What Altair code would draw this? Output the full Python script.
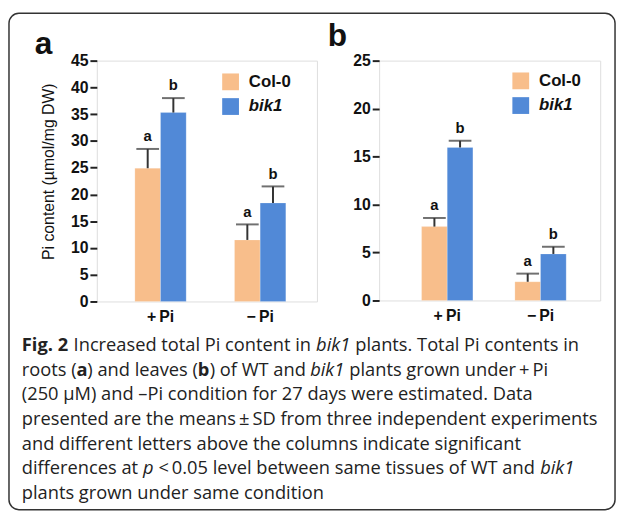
import altair as alt
import pandas as pd

# ---------------- data ----------------
conditions = ["+\u2009Pi", "\u2212\u2009Pi"]
genotypes = ["Col-0", "bik1"]
colors = ["#F8BE8B", "#5189D7"]

# panel a: roots
roots_col0 = [24.9, 11.5]
roots_col0_sd = [3.6, 2.9]
roots_bik1 = [35.3, 18.4]
roots_bik1_sd = [2.7, 3.1]
roots_letters_col0 = ["a", "a"]
roots_letters_bik1 = ["b", "b"]
roots_ticks = [0, 5, 10, 15, 20, 25, 30, 35, 40, 45]

# panel b: leaves
leaves_col0 = [7.7, 1.95]
leaves_col0_sd = [0.9, 0.85]
leaves_bik1 = [15.95, 4.85]
leaves_bik1_sd = [0.7, 0.75]
leaves_letters_col0 = ["a", "a"]
leaves_letters_bik1 = ["b", "b"]
leaves_ticks = [0, 5, 10, 15, 20, 25]

y_title = "Pi content (\u00b5mol/mg DW)"

# caption: list of lines; each segment = (text, style, space_before)
caption_lines = [
    [("Fig. 2", "bold", False), ("Increased total Pi content in", "normal", True),
     ("bik1", "italic", True), ("plants. Total Pi contents in", "normal", True)],
    [("roots (", "normal", False), ("a", "bold", False), (") and leaves (", "normal", False),
     ("b", "bold", False), (") of WT and", "normal", False), ("bik1", "italic", True),
     ("plants grown under\u2009+\u2009Pi", "normal", True)],
    [("(250 \u00b5M) and \u2013Pi condition for 27 days were estimated. Data", "normal", False)],
    [("presented are the means\u2009\u00b1\u2009SD from three independent experiments", "normal", False)],
    [("and different letters above the columns indicate significant", "normal", False)],
    [("differences at", "normal", False), ("p", "italic", True),
     ("<\u20090.05 level between same tissues of WT and", "normal", True), ("bik1", "italic", True)],
    [("plants grown under same condition", "normal", False)],
]
caption_baselines = [353, 378, 403, 428, 453, 478, 503]
CAPTION_X = 22
CAPTION_SIZE = 18.5

AX_FONT = "Liberation Sans"
CAP_FONT = "Open Sans"
A_ORIGIN = (98, 59)

# approximate Open Sans advance widths (units per em = 2048), for laying out caption runs
_ADV = {" ": 532, "(": 596, ")": 596, "+": 1171, ".": 545, "/": 752, "<": 1171,
        "\u2009": 410, "\u00b1": 1171, "\u2013": 1024, "\u00b5": 1266,
        "A": 1300, "D": 1466, "F": 1088, "I": 604, "M": 1796, "P": 1245, "S": 1063,
        "T": 1087, "W": 1874,
        "a": 1139, "b": 1255, "c": 975, "d": 1255, "e": 1149, "f": 694, "g": 1122,
        "h": 1257, "i": 518, "j": 518, "k": 1075, "l": 518, "m": 1905, "n": 1257,
        "o": 1237, "p": 1255, "q": 1255, "r": 836, "s": 977, "t": 723, "u": 1257,
        "v": 1026, "w": 1593, "x": 1073, "y": 1028, "z": 977}
_STYLE_FACTOR = {"normal": 1.0, "bold": 1.06, "italic": 0.96}


def run_width(text, style, size):
    units = sum(_ADV.get(ch, 1171) for ch in text)
    return units / 2048.0 * size * _STYLE_FACTOR[style]


def make_df(col0, col0_sd, bik1, bik1_sd, l_col0, l_bik1):
    rows = []
    for i, c in enumerate(conditions):
        rows.append({"condition": c, "genotype": "Col-0", "mean": col0[i],
                     "upper": col0[i] + col0_sd[i], "letter": l_col0[i]})
        rows.append({"condition": c, "genotype": "bik1", "mean": bik1[i],
                     "upper": bik1[i] + bik1_sd[i], "letter": l_bik1[i]})
    return pd.DataFrame(rows)


def panel(df, ymax, ticks, p_in, p_out, align, leg_x, leg_y,
          title, title_y, letter, lx, ly):
    base = alt.Chart(df)
    x = alt.X("condition:N", sort=conditions,
              scale=alt.Scale(paddingInner=p_in, paddingOuter=p_out, align=align),
              axis=alt.Axis(title=None, labelAngle=0, ticks=False, domain=False,
                            labelFont=AX_FONT, labelFontWeight="bold", labelFontSize=16,
                            labelColor="#111", labelPadding=7))
    xo = alt.XOffset("genotype:N", sort=genotypes,
                     scale=alt.Scale(paddingInner=0, paddingOuter=0))
    y_axis = alt.Axis(values=ticks, grid=False, domain=False, tickSize=7,
                      tickWidth=2, tickColor="#222", labelFont=AX_FONT,
                      labelFontWeight="bold", labelFontSize=16, labelColor="#111",
                      labelPadding=2, labelOverlap=False, titleFont=AX_FONT,
                      titleFontWeight="normal", titleFontSize=16, titleColor="#111",
                      titlePadding=14, titleY=title_y)
    y_scale = alt.Scale(domain=[0, ymax], nice=False, zero=True)

    def Y(field):
        return alt.Y(field, title=title, scale=y_scale, axis=y_axis)

    bars = base.mark_bar(stroke="white", strokeWidth=0.5, strokeOpacity=0.4).encode(
        x=x, xOffset=xo, y=Y("mean:Q"),
        color=alt.Color("genotype:N", sort=genotypes,
                        scale=alt.Scale(domain=genotypes, range=colors),
                        legend=alt.Legend(title=None, orient="none", legendX=leg_x,
                                          legendY=leg_y, symbolType="square",
                                          symbolSize=289, symbolStrokeWidth=0,
                                          symbolOpacity=1,
                                          labelFont=AX_FONT, labelFontWeight="bold",
                                          labelFontSize=17, labelColor="#111",
                                          labelFontStyle={"expr": "datum.label == 'bik1' ? 'italic' : 'normal'"},
                                          labelOffset=10, rowPadding=7, padding=0)))
    err = base.mark_rule(color="#333", strokeWidth=2).encode(
        x=x, xOffset=xo, y=Y("mean:Q"), y2="upper:Q")
    caps = base.mark_tick(color="#333", thickness=2, size=23).encode(
        x=x, xOffset=xo, y=Y("upper:Q"))
    sig = base.mark_text(font=AX_FONT, fontWeight="bold", fontSize=15, dy=-8,
                         baseline="alphabetic", color="#111").encode(
        x=x, xOffset=xo, y=Y("upper:Q"), text="letter:N")
    one = pd.DataFrame({"k": [0]})
    plabel = alt.Chart(one).mark_text(font=AX_FONT, fontWeight="bold", fontSize=32,
                                      align="left", baseline="alphabetic",
                                      color="#111").encode(
        x=alt.value(lx), y=alt.value(ly), text=alt.value(letter))
    return [bars, err, caps, sig, plabel]


df_a = make_df(roots_col0, roots_col0_sd, roots_bik1, roots_bik1_sd,
               roots_letters_col0, roots_letters_bik1)
df_b = make_df(leaves_col0, leaves_col0_sd, leaves_bik1, leaves_bik1_sd,
               leaves_letters_col0, leaves_letters_bik1)

layers_a = panel(df_a, 45, roots_ticks, 0.485, 0.347, 0.55, 127, 13,
                 y_title, 112, "a", -63, -7)
layers_b = panel(df_b, 25, leaves_ticks, 0.45, 0.41, 0.555, 135, 12,
                 None, 120, "b", -52, -15)

# figure border and caption (decoration, drawn in panel a's pixel space)
one = pd.DataFrame({"k": [0]})
ox, oy = A_ORIGIN
border = alt.Chart(one).mark_rect(fill="transparent", stroke="#333", strokeWidth=1.5,
                                  cornerRadius=10).encode(
    x=alt.value(9 - ox), x2=alt.value(623 - ox),
    y=alt.value(11 - oy), y2=alt.value(514 - oy))
caption_layers = []
space_w = run_width(" ", "normal", CAPTION_SIZE)
for line, base_y in zip(caption_lines, caption_baselines):
    cx = CAPTION_X
    for text, style, space_before in line:
        if space_before:
            cx += space_w
        caption_layers.append(
            alt.Chart(one).mark_text(
                font=CAP_FONT, fontSize=CAPTION_SIZE, align="left", baseline="alphabetic",
                color="#222",
                fontWeight="bold" if style == "bold" else "normal",
                fontStyle="italic" if style == "italic" else "normal",
            ).encode(x=alt.value(cx - ox), y=alt.value(base_y - oy),
                     text=alt.value(text)))
        cx += run_width(text, style, CAPTION_SIZE)

panel_a = alt.layer(*layers_a, border, *caption_layers).properties(width=223, height=244)
panel_b = alt.layer(*layers_b).properties(width=224, height=243)

chart = alt.hconcat(panel_a, panel_b, spacing=63, bounds="flush").resolve_legend(
    color="independent"
).properties(
    padding={"left": -1, "top": 0, "right": 0, "bottom": 0}
).configure_view(stroke="#222", strokeWidth=2).configure(background="white")

chart.save("out.html", embed_options={"renderer": "svg", "actions": False})
